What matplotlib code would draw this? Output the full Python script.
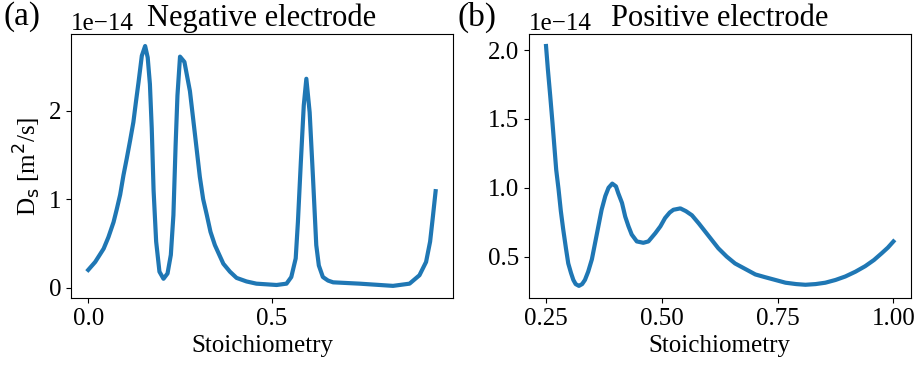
import numpy as np
import matplotlib
matplotlib.use('Agg')
import matplotlib.pyplot as plt

plt.rcParams['font.family'] = ['Liberation Serif', 'DejaVu Sans']
plt.rcParams['font.size'] = 18
plt.rcParams['axes.formatter.use_mathtext'] = False

# negative electrode diffusivity (units of 1e-14 m2/s)
neg_x = [0.0, 0.019, 0.042, 0.055, 0.069, 0.078, 0.087, 0.096, 0.105, 0.114,
         0.123, 0.13, 0.137, 0.146, 0.155,
         0.162, 0.168, 0.173, 0.178, 0.185, 0.194, 0.205, 0.216, 0.225, 0.232,
         0.238, 0.243, 0.25, 0.256, 0.262, 0.277, 0.291, 0.304, 0.313, 0.323,
         0.333, 0.345, 0.357, 0.368, 0.386, 0.404, 0.431, 0.458, 0.513, 0.54,
         0.553, 0.565, 0.571, 0.579, 0.587,
         0.594, 0.603, 0.612, 0.621, 0.628, 0.639, 0.653, 0.667, 0.739, 0.83,
         0.875, 0.902, 0.92, 0.931, 0.938, 0.946]
neg_d = [0.20, 0.29, 0.44, 0.57, 0.74, 0.89, 1.05, 1.27, 1.46, 1.66,
         1.87, 2.10, 2.32, 2.62, 2.73,
         2.60, 2.30, 1.80, 1.10, 0.52, 0.18, 0.10, 0.16, 0.37, 0.82,
         1.61, 2.17, 2.61, 2.58, 2.55, 2.22, 1.72, 1.25, 1.00, 0.82,
         0.63, 0.48, 0.37, 0.27, 0.18, 0.11, 0.07, 0.045, 0.03, 0.045,
         0.12, 0.33, 0.74, 1.42, 2.06,
         2.36, 1.98, 1.25, 0.48, 0.25, 0.12, 0.08, 0.06, 0.045, 0.02,
         0.045, 0.14, 0.29, 0.52, 0.78, 1.09]

# positive electrode diffusivity (units of 1e-14 m2/s)
pos_x = [0.25, 0.254, 0.259, 0.264, 0.268, 0.272, 0.277, 0.282, 0.287, 0.293,
         0.298, 0.304, 0.309, 0.314, 0.321, 0.328, 0.334, 0.341, 0.349, 0.356,
         0.363, 0.37, 0.378, 0.385, 0.393, 0.401, 0.406, 0.414, 0.421, 0.428,
         0.435, 0.446, 0.46, 0.471, 0.486, 0.497, 0.507, 0.517, 0.525, 0.54,
         0.552, 0.565, 0.58, 0.594, 0.608, 0.622, 0.64, 0.658, 0.68, 0.702,
         0.723, 0.745, 0.767, 0.79, 0.81, 0.832, 0.853, 0.875, 0.896, 0.918,
         0.939, 0.958, 0.975, 0.988, 1.0]
pos_d = [2.03, 1.86, 1.67, 1.47, 1.30, 1.13, 0.99, 0.83, 0.70, 0.56,
         0.45, 0.38, 0.33, 0.30, 0.287, 0.30, 0.33, 0.39, 0.48, 0.60,
         0.72, 0.84, 0.94, 1.00, 1.03, 1.01, 0.96, 0.89, 0.79, 0.72,
         0.66, 0.61, 0.60, 0.61, 0.67, 0.72, 0.78, 0.82, 0.84, 0.85,
         0.83, 0.80, 0.74, 0.68, 0.62, 0.56, 0.50, 0.45, 0.41, 0.37,
         0.35, 0.33, 0.31, 0.30, 0.295, 0.30, 0.31, 0.33, 0.355, 0.39,
         0.43, 0.475, 0.525, 0.565, 0.61]

scale = 1e-14

fig, (ax1, ax2) = plt.subplots(1, 2, figsize=(9.2, 3.78), dpi=100)
fig.subplots_adjust(left=0.077, right=0.99, bottom=0.212, top=0.91, wspace=0.198)

ax1.plot(neg_x, np.array(neg_d) * scale, c='#1f77b4', lw=3)
ax1.set_title('Negative electrode', fontsize=22)
ax1.set_xlabel('Stoichiometry')
ax1.set_ylabel('D$_\\mathrm{s}$ [m$^2$/s]')
ax1.set_xticks([0.0, 0.5])
ax1.set_yticks(np.array([0, 1, 2]) * scale)

ax2.plot(pos_x, np.array(pos_d) * scale, c='#1f77b4', lw=3)
ax2.set_title('Positive electrode', fontsize=22)
ax2.set_xlabel('Stoichiometry')
ax2.set_xticks([0.25, 0.5, 0.75, 1.0])
ax2.set_yticks(np.array([0.5, 1.0, 1.5, 2.0]) * scale)

fig.text(0.004, 0.955, '(a)', fontsize=24, va='center')
fig.text(0.497, 0.955, '(b)', fontsize=24, va='center')

fig.savefig('out.png', dpi=100)
